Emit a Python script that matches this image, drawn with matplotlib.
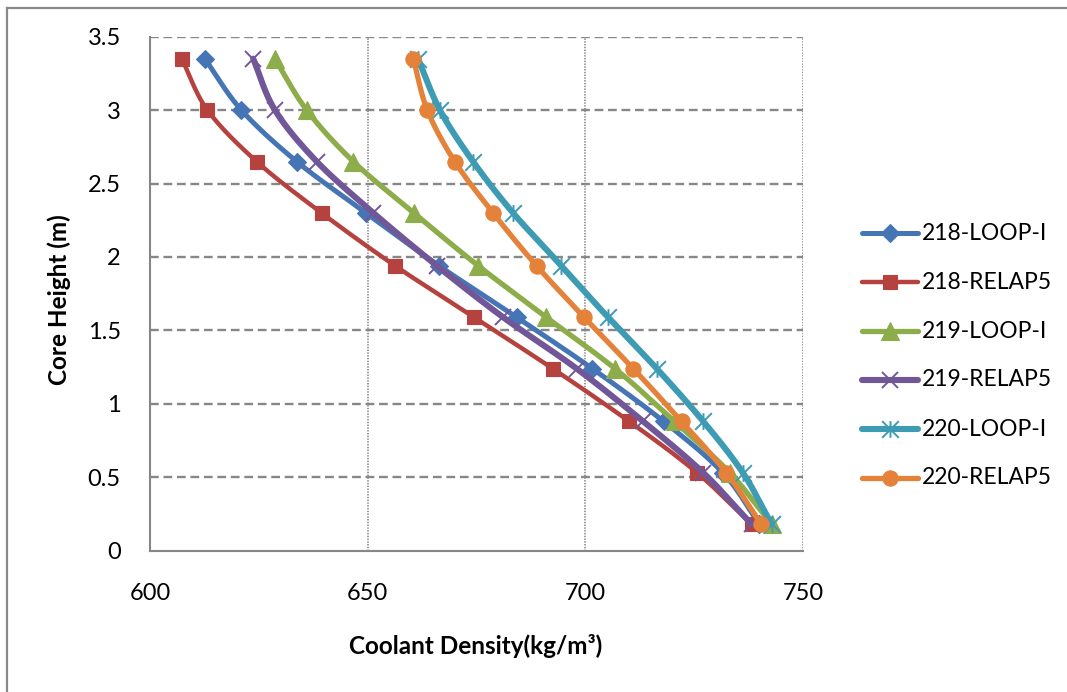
import numpy as np
import matplotlib
matplotlib.use("Agg")
import matplotlib.pyplot as plt
from matplotlib.lines import Line2D
from matplotlib.path import Path

# Axial positions of the measurement stations (m)
height = [0.18, 0.53, 0.88, 1.24, 1.59, 1.94, 2.30, 2.65, 3.00, 3.35]

# Coolant density at each station (kg/m3)
loop_218 = [740.0, 731.6, 718.0, 701.6, 684.2, 666.4, 649.6, 633.7, 621.0, 612.6]
relap_218 = [738.2, 725.7, 710.1, 692.5, 674.4, 656.3, 639.4, 624.5, 613.2, 607.3]
loop_219 = [742.8, 733.2, 720.5, 706.8, 691.0, 675.4, 660.6, 646.7, 636.0, 628.7]
relap_219 = [738.2, 727.1, 713.3, 698.0, 681.1, 665.9, 651.3, 638.3, 628.7, 623.7]
loop_220 = [742.8, 736.2, 727.1, 716.4, 705.2, 694.5, 683.4, 674.2, 666.6, 661.6]
relap_220 = [740.4, 732.4, 722.1, 711.0, 699.7, 688.8, 678.8, 670.0, 663.7, 660.5]

labels = ["218-LOOP-I", "218-RELAP5", "219-LOOP-I", "219-RELAP5", "220-LOOP-I", "220-RELAP5"]
series = [loop_218, relap_218, loop_219, relap_219, loop_220, relap_220]

x_ticks = [600, 650, 700, 750]
y_ticks = [0, 0.5, 1, 1.5, 2, 2.5, 3, 3.5]
y_tick_labels = ["0", "0.5", "1", "1.5", "2", "2.5", "3", "3.5"]

# asterisk marker (x with a vertical bar)
star = Path([(-0.5, -0.5), (0.5, 0.5), (-0.5, 0.5), (0.5, -0.5), (0, -0.5), (0, 0.5)],
            [Path.MOVETO, Path.LINETO, Path.MOVETO, Path.LINETO, Path.MOVETO, Path.LINETO])

styles = [
    dict(color="#4675B6", marker="D", ms=9.5, lw=3.6, mfc="#4675B6"),
    dict(color="#B5423F", marker="s", ms=10, lw=3.2, mfc="#B5423F"),
    dict(color="#8CAD4A", marker="^", ms=13, lw=3.8, mfc="#8CAD4A"),
    dict(color="#725798", marker="x", ms=12, lw=4.4, mfc="none", mew=1.4),
    dict(color="#3D9BB4", marker=star, ms=12, lw=4.4, mfc="none", mew=1.4),
    dict(color="#E4823A", marker="o", ms=11, lw=3.8, mfc="#E4823A"),
]

plt.rcParams["font.family"] = ["Lato", "DejaVu Sans"]
plt.rcParams["lines.scale_dashes"] = False


def smooth(xs, ys, n=24):
    """Catmull-Rom curve through the given points."""
    p = np.column_stack([xs, ys]).astype(float)
    p = np.vstack([2 * p[0] - p[1], p, 2 * p[-1] - p[-2]])
    out = []
    t = np.linspace(0, 1, n, endpoint=False)[:, None]
    for i in range(1, len(p) - 2):
        p0, p1, p2, p3 = p[i - 1], p[i], p[i + 1], p[i + 2]
        seg = 0.5 * ((2 * p1) + (-p0 + p2) * t + (2 * p0 - 5 * p1 + 4 * p2 - p3) * t ** 2
                     + (-p0 + 3 * p1 - 3 * p2 + p3) * t ** 3)
        out.append(seg)
    out.append(p[-2][None, :])
    out = np.vstack(out)
    return out[:, 0], out[:, 1]


W, H = 1067, 692
fig = plt.figure(figsize=(W / 100, H / 100), dpi=100)
ax = fig.add_axes([150 / W, 1 - 550.7 / H, 653 / W, 514 / H])

grid_color = "#878787"
for yv in y_ticks[1:]:
    ax.axhline(yv, color=grid_color, lw=1.7, ls=(0, (6.3, 3.4)), zorder=1)
for xv in x_ticks[1:]:
    ax.axvline(xv, color=grid_color, lw=1.2, ls=(0, (1.0, 1.0)), zorder=1)

for k, (vals, st) in enumerate(zip(series, styles)):
    sx, sy = smooth(vals, height)
    ax.plot(sx, sy, color=st["color"], lw=st["lw"], solid_capstyle="round",
            solid_joinstyle="round", zorder=3 + 2 * k)
    ax.plot(vals, height, ls="none", marker=st["marker"], ms=st["ms"],
            mfc=st["mfc"], mec=st["color"], mew=st.get("mew", 0.8), zorder=4 + 2 * k)

ax.set_xlim(600, 750)
ax.set_ylim(0, 3.5)
ax.set_xticks(x_ticks)
ax.set_yticks(y_ticks)
ax.set_yticklabels(y_tick_labels)
ax.tick_params(length=0, labelsize=17, colors="#000000")
ax.tick_params(axis="x", pad=23)
ax.tick_params(axis="y", pad=21)

for side in ("top", "right"):
    ax.spines[side].set_visible(False)
for side in ("left", "bottom"):
    ax.spines[side].set_color("#868686")
    ax.spines[side].set_linewidth(1.5)

fig.text(476 / W, 1 - 646 / H, "Coolant Density(kg/m³)", ha="center", va="center",
         fontsize=17.5, fontweight="bold")
fig.text(59 / W, 1 - 300 / H, "Core Height (m)", ha="center", va="center",
         rotation=90, fontsize=17.5, fontweight="bold")

# legend entries
for i, (lab, st) in enumerate(zip(labels, styles)):
    yf = 1 - (233 + 49 * i) / H
    fig.add_artist(Line2D([862 / W, 918 / W], [yf, yf], transform=fig.transFigure,
                          color=st["color"], lw=st["lw"], solid_capstyle="round"))
    fig.add_artist(Line2D([890 / W], [yf], transform=fig.transFigure, ls="none",
                          marker=st["marker"], ms=st["ms"], mfc=st["mfc"], mec=st["color"],
                          mew=st.get("mew", 0.8)))
    fig.text(922 / W, yf, lab, ha="left", va="center", fontsize=16.5)

# outer chart frame
frame_kw = dict(transform=fig.transFigure, color="#8A8A8A", lw=1.6)
fig.add_artist(Line2D([7 / W, 1.0], [1 - 8 / H, 1 - 8 / H], **frame_kw))
fig.add_artist(Line2D([7 / W, 7 / W], [0, 1 - 8 / H], **frame_kw))

fig.savefig("out.png", dpi=100)
